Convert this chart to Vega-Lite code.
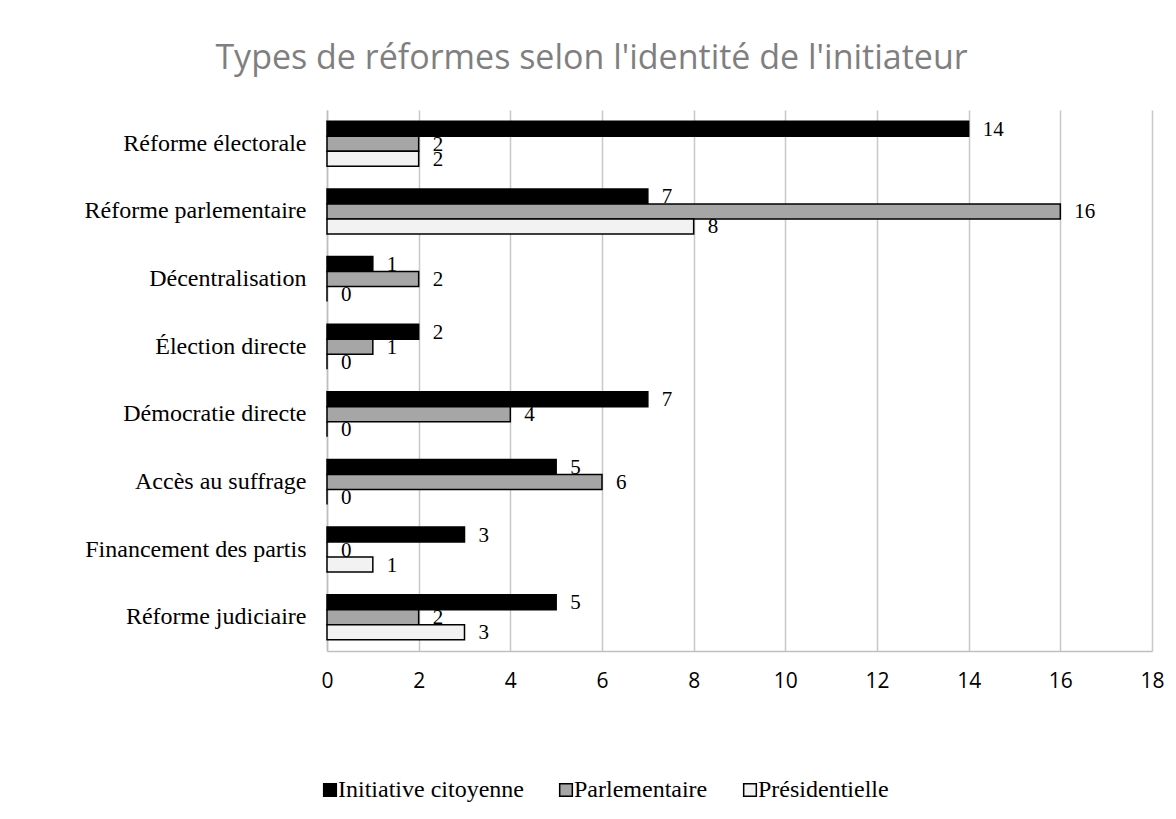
{
  "$schema": "https://vega.github.io/schema/vega-lite/v6.json",
  "autosize": {"type": "none"},
  "width": 825,
  "height": 541,
  "padding": {"left": 327, "top": 110, "right": 24, "bottom": 168},
  "background": "white",
  "title": {
    "text": "Types de réformes selon l'identité de l'initiateur",
    "font": "Open Sans",
    "fontSize": 34,
    "fontWeight": "normal",
    "color": "#7f7f7f",
    "anchor": "middle",
    "dx": -148,
    "offset": 34
  },
  "data": {
    "values": [
      {"categorie": "Réforme électorale", "initiateur": "Initiative citoyenne", "n": 14},
      {"categorie": "Réforme électorale", "initiateur": "Parlementaire", "n": 2},
      {"categorie": "Réforme électorale", "initiateur": "Présidentielle", "n": 2},
      {"categorie": "Réforme parlementaire", "initiateur": "Initiative citoyenne", "n": 7},
      {"categorie": "Réforme parlementaire", "initiateur": "Parlementaire", "n": 16},
      {"categorie": "Réforme parlementaire", "initiateur": "Présidentielle", "n": 8},
      {"categorie": "Décentralisation", "initiateur": "Initiative citoyenne", "n": 1},
      {"categorie": "Décentralisation", "initiateur": "Parlementaire", "n": 2},
      {"categorie": "Décentralisation", "initiateur": "Présidentielle", "n": 0},
      {"categorie": "Élection directe", "initiateur": "Initiative citoyenne", "n": 2},
      {"categorie": "Élection directe", "initiateur": "Parlementaire", "n": 1},
      {"categorie": "Élection directe", "initiateur": "Présidentielle", "n": 0},
      {"categorie": "Démocratie directe", "initiateur": "Initiative citoyenne", "n": 7},
      {"categorie": "Démocratie directe", "initiateur": "Parlementaire", "n": 4},
      {"categorie": "Démocratie directe", "initiateur": "Présidentielle", "n": 0},
      {"categorie": "Accès au suffrage", "initiateur": "Initiative citoyenne", "n": 5},
      {"categorie": "Accès au suffrage", "initiateur": "Parlementaire", "n": 6},
      {"categorie": "Accès au suffrage", "initiateur": "Présidentielle", "n": 0},
      {"categorie": "Financement des partis", "initiateur": "Initiative citoyenne", "n": 3},
      {"categorie": "Financement des partis", "initiateur": "Parlementaire", "n": 0},
      {"categorie": "Financement des partis", "initiateur": "Présidentielle", "n": 1},
      {"categorie": "Réforme judiciaire", "initiateur": "Initiative citoyenne", "n": 5},
      {"categorie": "Réforme judiciaire", "initiateur": "Parlementaire", "n": 2},
      {"categorie": "Réforme judiciaire", "initiateur": "Présidentielle", "n": 3}
    ]
  },
  "encoding": {
    "y": {
      "field": "categorie",
      "type": "nominal",
      "sort": null,
      "scale": {"paddingInner": 0.334, "paddingOuter": 0.167},
      "axis": {
        "title": null,
        "labelFont": "Liberation Serif",
        "labelFontSize": 24,
        "labelColor": "#000",
        "labelPadding": 21,
        "labelLimit": 400,
        "ticks": false,
        "domainColor": "#bfbfbf",
        "domainWidth": 1.5,
        "grid": false
      }
    },
    "yOffset": {
      "field": "initiateur",
      "type": "nominal",
      "sort": ["Initiative citoyenne", "Parlementaire", "Présidentielle"]
    },
    "x": {
      "field": "n",
      "type": "quantitative",
      "scale": {"domain": [0, 18], "nice": false},
      "axis": {
        "title": null,
        "values": [0, 2, 4, 6, 8, 10, 12, 14, 16, 18],
        "labelFont": "Open Sans",
        "labelFontSize": 21,
        "labelColor": "#000",
        "labelPadding": 19,
        "labelFlush": false,
        "ticks": false,
        "domainColor": "#bfbfbf",
        "domainWidth": 1.5,
        "grid": true,
        "gridColor": "#c8c8c8",
        "gridWidth": 1.5
      }
    }
  },
  "layer": [
    {
      "mark": {"type": "bar", "stroke": "#000", "strokeWidth": 1.5},
      "encoding": {
        "color": {
          "field": "initiateur",
          "type": "nominal",
          "scale": {
            "domain": ["Initiative citoyenne", "Parlementaire", "Présidentielle"],
            "range": ["#000000", "#a6a6a6", "#f2f2f2"]
          },
          "legend": {
            "title": null,
            "orient": "none",
            "direction": "horizontal",
            "legendX": -9,
            "legendY": 668,
            "symbolType": "square",
            "symbolSize": 160,
            "symbolStrokeColor": "#000",
            "symbolStrokeWidth": 1.5,
            "symbolOpacity": 1,
            "labelFont": "Liberation Serif",
            "labelFontSize": 24,
            "labelColor": "#000",
            "labelOffset": -4,
            "columnPadding": 30,
            "labelLimit": 300
          }
        }
      }
    },
    {
      "mark": {
        "type": "text",
        "align": "left",
        "baseline": "middle",
        "dx": 14,
        "dy": 1,
        "font": "Liberation Serif",
        "fontSize": 21,
        "color": "#000"
      },
      "encoding": {
        "text": {"field": "n", "type": "quantitative"}
      }
    }
  ],
  "config": {
    "view": {"stroke": null}
  }
}
